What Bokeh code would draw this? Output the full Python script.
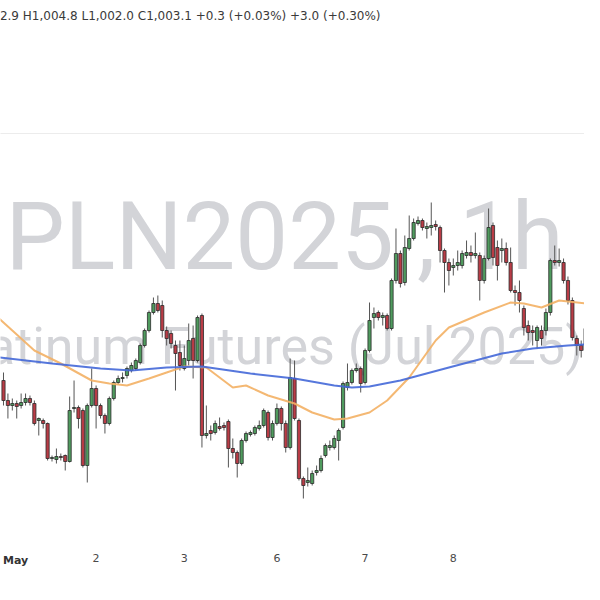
from bokeh.plotting import figure
from bokeh.models import ColumnDataSource, Range1d, FixedTicker, LinearAxis
from bokeh.core.properties import value
from bokeh.embed import file_html
from bokeh.resources import INLINE

# ---- hourly OHLC ----
opens = [994.0, 990.0, 989.0, 989.4, 989.0, 989.6, 990.4, 989.4, 986.0, 986.0,
         985.4, 978.4, 978.2, 978.8, 979.0, 977.8, 988.4, 988.6, 988.0, 977.0,
         989.0, 992.4, 989.0, 987.0, 985.4, 990.4, 993.6, 994.4, 995.0, 996.0,
         996.4, 997.6, 1001.0, 1004.0, 1007.6, 1009.4, 1009.0, 1004.0, 1003.4, 1001.0,
         999.6, 996.4, 998.0, 1002.4, 998.0, 1007.0, 983.0, 984.0, 983.6, 984.8,
         985.0, 985.8, 980.4, 979.6, 977.4, 982.0, 983.2, 983.4, 984.4, 985.0,
         987.6, 982.6, 985.4, 988.4, 985.4, 980.6, 994.4, 986.0, 974.4, 973.6,
         973.4, 975.6, 976.0, 979.0, 980.6, 980.6, 982.0, 984.6, 992.6, 993.6,
         996.0, 996.4, 993.6, 1000.0, 1006.6, 1007.6, 1006.6, 1007.0, 1004.4, 1014.0,
         1019.4, 1013.6, 1020.4, 1022.4, 1025.4, 1026.0, 1024.4, 1024.6, 1025.2, 1024.6,
         1020.0, 1017.6, 1016.6, 1017.0, 1017.0, 1019.0, 1019.6, 1019.0, 1019.0, 1014.0,
         1018.4, 1025.0, 1020.6, 1020.0, 1020.4, 1017.6, 1012.0, 1011.6, 1008.4, 1005.0,
         1004.0, 1002.0, 1004.0, 1004.0, 1007.6, 1018.0, 1017.6, 1017.6, 1014.0, 1010.0,
         1002.4, 1001.0, 1000.0, 1004.4, 1010.4, 1012.0]
highs = [995.6, 991.4, 990.4, 990.0, 991.4, 991.4, 991.0, 990.0, 986.6, 986.4,
         985.6, 979.0, 980.4, 979.4, 979.2, 990.8, 994.0, 989.0, 988.4, 989.4,
         996.4, 993.0, 989.4, 987.4, 990.8, 994.0, 995.0, 995.6, 996.8, 997.6,
         998.4, 1001.4, 1004.4, 1008.0, 1010.6, 1011.0, 1010.0, 1004.8, 1004.0, 1002.0,
         1002.0, 1001.0, 1005.4, 1005.0, 1007.0, 1007.4, 989.0, 985.0, 986.0, 986.6,
         985.6, 986.2, 982.4, 980.0, 982.4, 983.8, 984.0, 985.0, 986.0, 988.4,
         988.0, 986.0, 989.4, 988.8, 986.0, 998.4, 998.0, 986.4, 974.8, 976.6,
         976.0, 977.0, 979.0, 981.4, 982.0, 983.0, 984.4, 993.8, 997.4, 996.4,
         997.4, 996.8, 1000.4, 1009.6, 1008.6, 1008.0, 1007.6, 1007.4, 1014.4, 1024.4,
         1020.0, 1023.0, 1027.0, 1026.4, 1026.8, 1026.4, 1025.6, 1029.6, 1026.0, 1025.0,
         1020.4, 1018.4, 1018.4, 1020.0, 1020.0, 1022.0, 1021.0, 1023.6, 1019.6, 1019.0,
         1028.4, 1025.6, 1022.0, 1022.4, 1021.6, 1020.6, 1013.0, 1014.0, 1009.0, 1006.0,
         1005.0, 1005.0, 1005.0, 1008.4, 1018.4, 1021.0, 1020.4, 1018.4, 1014.8, 1010.6,
         1003.0, 1002.0, 1005.0, 1013.6, 1014.0, 1013.0]
lows = [989.0, 986.4, 988.0, 986.4, 988.4, 989.0, 989.0, 985.0, 983.0, 984.4,
        978.0, 977.8, 977.4, 978.0, 976.0, 977.6, 987.6, 984.4, 976.6, 973.6,
        988.6, 984.4, 986.4, 983.4, 985.0, 990.0, 993.2, 993.6, 994.4, 995.6,
        996.0, 997.2, 1000.6, 1003.6, 1007.2, 1007.6, 1002.6, 1001.0, 1000.4, 992.0,
        996.0, 996.0, 997.0, 994.4, 997.6, 980.6, 982.4, 982.0, 983.2, 984.0,
        984.0, 976.6, 978.4, 974.6, 977.0, 981.6, 982.8, 983.0, 984.0, 984.6,
        982.0, 982.0, 985.0, 984.0, 979.6, 980.2, 986.0, 974.0, 970.4, 972.8,
        973.0, 975.0, 975.6, 978.6, 980.0, 980.2, 978.0, 984.2, 992.0, 993.2,
        995.6, 991.6, 993.2, 999.6, 1004.4, 1006.0, 1005.0, 1004.0, 1004.0, 1013.4,
        1012.6, 1013.0, 1020.0, 1022.0, 1025.0, 1024.0, 1022.4, 1023.0, 1024.0, 1017.6,
        1011.6, 1013.0, 1015.0, 1016.0, 1016.4, 1018.4, 1017.6, 1018.4, 1010.0, 1013.4,
        1018.0, 1017.0, 1014.0, 1017.6, 1017.0, 1011.6, 1009.0, 1007.6, 1003.0, 1002.0,
        1001.0, 1000.4, 1001.0, 1003.0, 1007.0, 1017.0, 1016.8, 1013.4, 1009.2, 1002.0,
        999.0, 998.6, 999.0, 1003.6, 1009.4, 1006.4]
closes = [990.0, 989.0, 989.4, 988.8, 989.6, 990.4, 989.6, 985.4, 986.4, 985.4,
          978.4, 978.6, 978.8, 978.6, 977.8, 988.0, 988.6, 986.4, 977.0, 989.0,
          992.4, 989.0, 987.0, 985.4, 990.4, 993.6, 994.4, 994.6, 996.4, 997.0,
          998.0, 1001.0, 1004.0, 1007.6, 1009.4, 1008.0, 1004.0, 1002.4, 1001.4, 999.4,
          997.0, 998.4, 1002.0, 998.0, 1006.6, 983.0, 983.4, 983.4, 985.4, 984.4,
          984.6, 980.4, 979.6, 977.4, 982.0, 983.4, 983.6, 984.6, 985.0, 988.0,
          982.6, 985.4, 988.4, 985.4, 980.6, 994.6, 986.4, 974.4, 973.0, 974.0,
          975.4, 976.0, 978.4, 981.0, 981.0, 982.4, 984.0, 993.4, 993.6, 996.0,
          996.4, 993.4, 1000.0, 1006.0, 1007.4, 1006.6, 1007.0, 1004.4, 1014.0, 1019.4,
          1013.4, 1020.6, 1022.4, 1025.6, 1026.0, 1024.6, 1024.8, 1025.0, 1024.8, 1020.0,
          1017.6, 1016.0, 1017.0, 1017.6, 1019.4, 1019.6, 1019.0, 1019.4, 1014.0, 1018.4,
          1024.6, 1018.6, 1017.0, 1020.4, 1017.6, 1012.0, 1011.6, 1010.0, 1004.6, 1003.6,
          1003.6, 1004.6, 1002.4, 1007.6, 1018.0, 1017.6, 1018.0, 1014.0, 1010.0, 1002.6,
          1001.0, 1000.0, 1004.4, 1010.4, 1012.4, 1008.4]

# ---- moving averages (at bar positions) ----
ma_fast_bar = [-1, 2, 7, 13, 20, 24, 28, 33, 37, 41, 46, 52, 55, 60, 66, 70, 75, 78,
               83, 87, 92, 98, 101, 109, 115, 118, 122, 126, 132, 136]
ma_fast = [1006.4, 1004.0, 1000.0, 997.4, 994.0, 993.4, 993.0, 994.4, 995.6, 996.8,
           996.6, 992.6, 993.0, 991.0, 989.4, 987.6, 986.2, 986.4, 987.6, 990.0,
           994.6, 1002.0, 1004.6, 1007.6, 1009.6, 1009.4, 1008.6, 1010.0, 1009.4, 1008.6]
ma_slow_bar = [-1, 11, 22, 29, 37, 45, 56, 66, 75, 79, 83, 90, 101, 113, 120, 128, 136]
ma_slow = [998.6, 997.4, 996.4, 996.0, 996.6, 996.8, 995.4, 994.4, 993.0, 992.6,
           992.8, 994.0, 996.6, 999.4, 1000.4, 1001.0, 1001.4]

# ---- day labels on the time axis ----
day_bar = [21, 41, 62, 82, 102]
day_label = ["2", "3", "6", "7", "8"]
month_bar = [1.6]
month_label = ["May"]

header = "O1,002.9 H1,004.8 L1,002.0 C1,003.1 +0.3 (+0.03%) +3.0 (+0.30%)"
wm_symbol = "PLN2025 , 1h"
wm_name = "Platinum Futures (Jul 2025)"

bars = list(range(len(opens)))
up = [c >= o for o, c in zip(opens, closes)]
src = ColumnDataSource(dict(
    x=bars, open=opens, high=highs, low=lows, close=closes,
    top=[max(o, c) for o, c in zip(opens, closes)],
    bottom=[min(o, c) for o, c in zip(opens, closes)],
    color=["#4f9b5e" if u else "#b93c46" for u in up],
))

p = figure(width=584, height=584, output_backend="svg", toolbar_location=None,
           x_range=Range1d(-0.68, 131.75), y_range=Range1d(962.0, 1070.0),
           y_axis_location=None,
           min_border_left=0, min_border_right=0, min_border_top=0, min_border_bottom=44)
p.grid.visible = False
p.outline_line_color = None
p.background_fill_color = "white"
p.border_fill_color = "white"

WM_FONT = value("Roboto")
# watermark
p.text(x=[0.45], y=[1022.7], text=[wm_symbol], text_align="left",
       text_baseline="middle", text_font=WM_FONT,
       text_font_size="94px", text_color="#d3d4d8")
p.text(x=[131.5], y=[1000.8], text=[wm_name], text_align="right",
       text_baseline="middle", text_font=WM_FONT,
       text_font_size="52px", text_color="#d3d4d8")

# separator line under the legend
p.line(x=[-5, 140], y=[1043.4, 1043.4], line_color="#ececec", line_width=1)

# candles
p.segment(x0="x", y0="low", x1="x", y1="high", source=src, line_color="#555555", line_width=1)
p.vbar(x="x", width=0.72, top="top", bottom="bottom", source=src,
       fill_color="color", line_color="#2b2b2b", line_width=0.8)

# moving averages
p.line(ma_fast_bar, ma_fast, line_color="#f3b064", line_width=2, line_alpha=0.9)
p.line(ma_slow_bar, ma_slow, line_color="#4468d8", line_width=2, line_alpha=0.9)

# legend header
p.text(x=[85.5], y=[1067.0], text=[header], text_align="right", text_baseline="middle",
       text_font=value("DejaVu Sans"), text_font_size="12px", text_color="#3a3a3a")


def style_axis(ax, ticks, labels, bold, standoff):
    ax.ticker = FixedTicker(ticks=ticks)
    ax.major_label_overrides = {b: l for b, l in zip(ticks, labels)}
    ax.axis_line_color = None
    ax.major_tick_line_color = None
    ax.minor_tick_line_color = None
    ax.major_tick_out = 0
    ax.major_tick_in = 0
    ax.major_label_standoff = standoff
    ax.major_label_text_font = "DejaVu Sans"
    ax.major_label_text_font_size = "11px"
    ax.major_label_text_color = "#333333" if bold else "#4a4a4a"
    ax.major_label_text_font_style = "bold" if bold else "normal"


style_axis(p.xaxis[0], day_bar, day_label, False, 13)
month_axis = LinearAxis()
p.add_layout(month_axis, "below")
style_axis(month_axis, month_bar, month_label, True, -11)

open("out.html", "w").write(file_html(p, INLINE))
